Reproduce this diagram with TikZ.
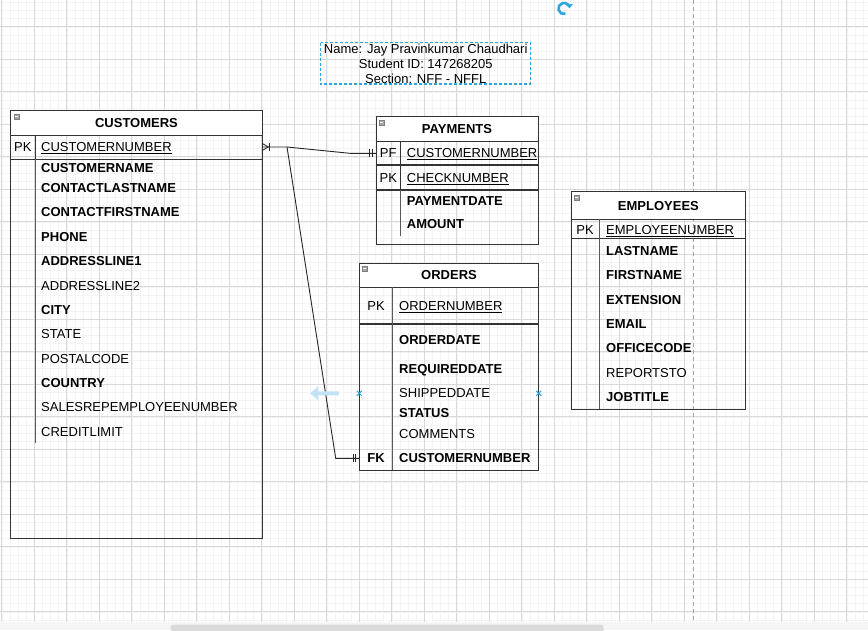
\documentclass[tikz,border=0pt]{standalone}
\usepackage{fontspec}
\setmainfont{Liberation Sans}
\usetikzlibrary{arrows.meta}
\definecolor{gridmajor}{HTML}{D9D9D9}
\definecolor{gridminor}{HTML}{F4F4F4}
\definecolor{selblue}{HTML}{2BA6DE}
\definecolor{hoverblue}{HTML}{C4E2F5}
\definecolor{linegray}{HTML}{333333}
\tikzset{
  collapse/.pic={
    \draw[draw=black!50, fill=black!35, line width=0.4pt] (0,0) rectangle (5,5);
    \draw[white, line width=0.7pt] (1,2.5) -- (4,2.5);
  }
}

\begin{document}
\begin{tikzpicture}[x=1pt, y=-1pt,
  font=\fontsize{13}{15}\selectfont,
  tbl/.style={draw=linegray, line width=0.9pt},
  keyline/.style={draw=linegray, line width=1.6pt},
  sep/.style={draw=black!65, line width=0.9pt},
  fldr/.style={anchor=west, inner sep=0pt, text height=9.3pt, text depth=0pt},
  fldb/.style={fldr, font=\fontsize{13}{15}\selectfont\bfseries},
  keyl/.style={fldr, anchor=center},
  title/.style={fldb, anchor=center},
  conn/.style={draw=black!85, line width=0.9pt}
]
\useasboundingbox (0,0) rectangle (868,630);

% grid
\foreach \i in {0,...,107} \draw[gridminor, line width=0.5pt] ({1.8+\i*8.125},0) -- ({1.8+\i*8.125},622);
\foreach \i in {-3,...,73} \draw[gridminor, line width=0.5pt] (0,{26.8+\i*8.125}) -- (868,{26.8+\i*8.125});
\foreach \i in {0,...,26} \draw[gridmajor, line width=0.7pt] ({1.8+\i*32.5},0) -- ({1.8+\i*32.5},622);
\foreach \i in {0,...,18} \draw[gridmajor, line width=0.7pt] (0,{26.8+\i*32.5}) -- (868,{26.8+\i*32.5});
\draw[black!35, dash pattern=on 4pt off 3pt, line width=0.9pt] (693.3,0) -- (693.3,622);
\fill[black!4] (0,622) rectangle (868,630);
\fill[black!14, rounded corners=3pt] (170.5,624.5) rectangle (603.5,633);

% name box
\draw[selblue, line width=1.1pt, dash pattern=on 3pt off 2pt] (320.7,42.7) rectangle (530.7,84);
\node[keyl] (name) at (425.7,49.3) {Name: Jay Pravinkumar Chaudhari};
\node[keyl] (sid) at (425.7,63.6) {Student ID: 147268205};
\node[keyl] (section) at (425.7,79.3) {Section: NFF - NFFL};
\draw[selblue, line width=2.6pt, -{Triangle[length=3.6pt,width=7pt]}] (564,8.5) ++(75:5.6) arc[start angle=75, end angle=355, radius=5.6];

% CUSTOMERS
\fill[white] (10.7,110.7) rectangle (262.3,135);
\draw[tbl] (10.7,110.7) rectangle (262.3,538.7);
\draw[tbl] (10.7,135) -- (262.3,135);
\draw[keyline] (10.7,159.3) -- (262.3,159.3);
\draw[tbl] (35,135) -- (35,159.3);
\draw[sep] (35,159.3) -- (35,443);
\pic at (13.7,113.7) {collapse};
\node[title] (cust) at (136.5,123) {CUSTOMERS};
\node[keyl] (cust-pk) at (22.8,147) {PK};
\node[fldr] (cust-id) at (41,147) {\underline{CUSTOMERNUMBER}};
\foreach \y/\s/\t [count=\i] in {168/b/CUSTOMERNAME, 188/b/CONTACTLASTNAME, 212/b/CONTACTFIRSTNAME,
  237/b/PHONE, 261/b/ADDRESSLINE1, 286/r/ADDRESSLINE2, 310/b/CITY, 334/r/STATE, 359/r/POSTALCODE,
  383/b/COUNTRY, 407/r/SALESREPEMPLOYEENUMBER, 432/r/CREDITLIMIT}
  \node[fld\s] (cust-f\i) at (41,\y) {\t};

% PAYMENTS
\fill[white] (376,116.7) rectangle (538.3,141);
\draw[tbl] (376,116.7) rectangle (538.3,244);
\draw[tbl] (376,141) -- (538.3,141);
\draw[keyline] (376,165) -- (538.3,165);
\draw[keyline] (376,190) -- (538.3,190);
\draw[tbl] (400.7,141) -- (400.7,190);
\draw[sep] (400.7,190) -- (400.7,236);
\pic at (379,119.7) {collapse};
\node[title] (pay) at (457,129) {PAYMENTS};
\node[keyl] (pay-pf) at (388.3,153.3) {PF};
\node[fldr] (pay-cust) at (406.7,153.3) {\underline{CUSTOMERNUMBER}};
\node[keyl] (pay-pk) at (388.3,178.3) {PK};
\node[fldr] (pay-id) at (406.7,178.3) {\underline{CHECKNUMBER}};
\node[fldb] (pay-f1) at (406.7,200.7) {PAYMENTDATE};
\node[fldb] (pay-f2) at (406.7,224.3) {AMOUNT};

% ORDERS
\fill[white] (359.3,263.3) rectangle (538.7,287.3);
\draw[tbl] (359.3,263.3) rectangle (538.7,470);
\draw[tbl] (359.3,287.3) -- (538.7,287.3);
\draw[keyline] (359.3,324) -- (538.7,324);
\draw[sep] (392.3,287.3) -- (392.3,470);
\pic at (362.3,266.3) {collapse};
\node[title] (ord) at (449,275) {ORDERS};
\node[keyl] (ord-pk) at (376,306) {PK};
\node[fldr] (ord-id) at (399,306) {\underline{ORDERNUMBER}};
\foreach \y/\s/\t [count=\i] in {340/b/ORDERDATE, 369/b/REQUIREDDATE, 393.3/r/SHIPPEDDATE,
  413.3/b/STATUS, 434/r/COMMENTS}
  \node[fld\s] (ord-f\i) at (399,\y) {\t};
\node[title] (ord-fk) at (376,458.3) {FK};
\node[fldb] (ord-cust) at (399,458.3) {CUSTOMERNUMBER};

% EMPLOYEES
\fill[white] (571,191.7) rectangle (745.7,219.3);
\draw[tbl] (571,191.7) rectangle (745.7,409.3);
\draw[tbl] (571,219.3) -- (745.7,219.3);
\draw[keyline] (571,238.3) -- (745.7,238.3);
\draw[sep] (599.3,219.3) -- (599.3,409.3);
\pic at (574,194.7) {collapse};
\node[title] (emp) at (658.4,206) {EMPLOYEES};
\node[keyl] (emp-pk) at (585,230) {PK};
\node[fldr] (emp-id) at (606,230) {\underline{EMPLOYEENUMBER}};
\foreach \y/\s/\t [count=\i] in {251/b/LASTNAME, 275/b/FIRSTNAME, 300/b/EXTENSION, 324/b/EMAIL,
  348.3/b/OFFICECODE, 372.7/r/REPORTSTO, 396.7/b/JOBTITLE}
  \node[fld\s] (emp-f\i) at (606,\y) {\t};

% relations
\coordinate (cust-out) at (262.3,147);
\coordinate (cust-bend) at (287,147);
\coordinate (pay-bend) at (350,153.3);
\coordinate (pay-in) at (376,153.3);
\coordinate (ord-bend) at (335.7,458.3);
\coordinate (ord-in) at (359.3,458.3);
\draw[conn] (cust-out) -- (cust-bend) -- (pay-bend) -- (pay-in);
\draw[conn] (cust-bend) -- (ord-bend) -- (ord-in);
\draw[conn] ([yshift=3.5pt]cust-out) -- ([xshift=6pt]cust-out) -- ([yshift=-3.5pt]cust-out);
\draw[conn] ([xshift=7pt,yshift=4pt]cust-out) -- ([xshift=7pt,yshift=-4pt]cust-out);
\foreach \d in {6.5,3.5} \draw[conn] ([xshift=-\d pt,yshift=4pt]pay-in) -- ([xshift=-\d pt,yshift=-4pt]pay-in);
\foreach \d in {6,3.5} \draw[conn] ([xshift=-\d pt,yshift=4pt]ord-in) -- ([xshift=-\d pt,yshift=-4pt]ord-in);

% hover marks
\fill[hoverblue] (310,393.3) -- (318,386.5) -- (318,391.3) -- (339,391.3) -- (339,395.3) -- (318,395.3) -- (318,400.1) -- cycle;
\foreach \x in {359.3,538.7} \draw[selblue, line width=1pt] (\x-2.5,390.8) -- (\x+2.5,395.8) (\x-2.5,395.8) -- (\x+2.5,390.8);
\end{tikzpicture}
\end{document}
